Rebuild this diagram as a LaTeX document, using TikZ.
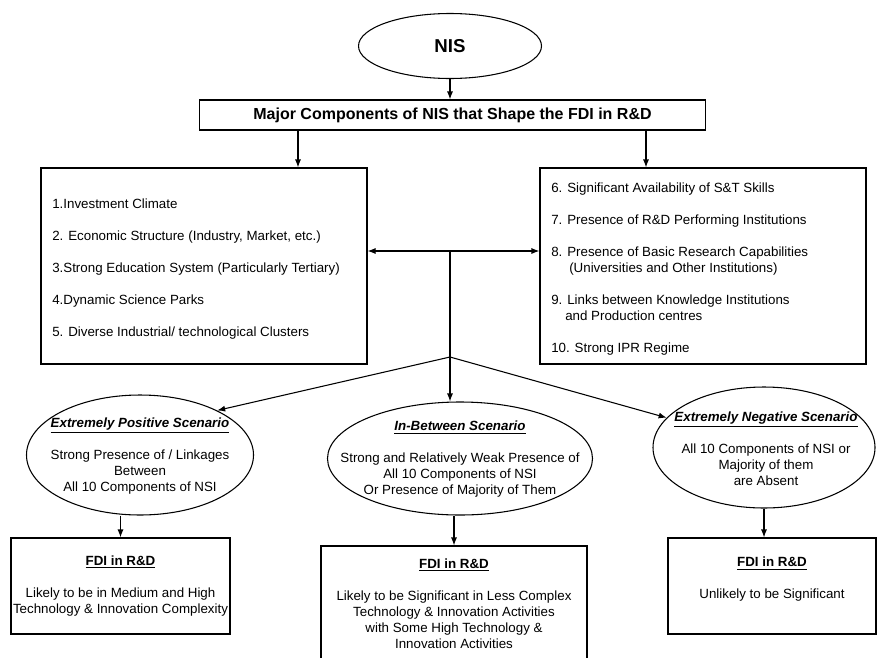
\documentclass[tikz,border=0pt]{standalone}
\usepackage{fontspec}
\setmainfont{Liberation Sans}
\usetikzlibrary{arrows.meta,shapes.geometric,positioning}

\begin{document}
\begin{tikzpicture}[x=0.75pt,y=0.75pt,yscale=-1,xscale=1,
  >={Latex[length=6pt,width=4.5pt]},
  box/.style={draw,line width=0.8pt,rectangle,inner sep=0pt,align=center,
    font=\fontsize{10}{12}\selectfont},
  oval/.style={draw,line width=0.8pt,ellipse,inner sep=0pt},
  txt/.style={align=center,inner sep=0pt,font=\fontsize{10}{12}\selectfont},
  arr/.style={->,line width=0.8pt}]
%set diagram to 877 x 657
\useasboundingbox (0,0) rectangle (877,657);
\clip (0,0) rectangle (877,657);

%Shape: Ellipse [NIS]
\node [oval,minimum width=137.25pt,minimum height=48.75pt,font=\fontsize{14}{16}\selectfont\bfseries] (nis) at (450,46) {NIS};
%Shape: Rectangle [major components]
\node [box,minimum width=379.5pt,minimum height=22.5pt,font=\fontsize{12}{14}\selectfont\bfseries] (major) at (452.5,115) {Major Components of NIS that Shape the FDI in R\&D};
%Shape: Rectangle [components 1-5]
\node [box,minimum width=244.5pt,minimum height=147pt] (compL) at (204,266) {};
%Shape: Rectangle [components 6-10]
\node [box,minimum width=244.5pt,minimum height=147pt] (compR) at (703,266) {};

% Text Node
\node [txt,align=left,anchor=west] (listL) at (52,269) {1.Investment Climate\\[12pt]
2. Economic Structure (Industry, Market, etc.)\\[12pt]
3.Strong Education System (Particularly Tertiary)\\[12pt]
4.Dynamic Science Parks\\[12pt]
5. Diverse Industrial/ technological Clusters};
% Text Node
\node [txt,align=left,anchor=west] (listR) at (551,269) {6. Significant Availability of S\&T Skills\\[12pt]
7. Presence of R\&D Performing Institutions\\[12pt]
8. Presence of Basic Research Capabilities\\
\hspace*{13.5pt}(Universities and Other Institutions)\\[12pt]
9. Links between Knowledge Institutions\\
\hspace*{10.5pt}and Production centres\\[12pt]
10. Strong IPR Regime};

%Shape: Ellipse [scenarios]
\node [oval,minimum width=170.25pt,minimum height=90pt] (posEll) at (140,455) {};
\node [oval,minimum width=198.75pt,minimum height=84.75pt] (midEll) at (460,458.5) {};
\node [oval,minimum width=166.5pt,minimum height=90.75pt] (negEll) at (764,447.5) {};

% Text Node
\node [txt] (posTxt) at (140,456) {\underline{\textbf{\textit{Extremely Positive Scenario}}}\\[12pt]
Strong Presence of / Linkages\\ Between\\ All 10 Components of NSI};
% Text Node
\node [txt] (midTxt) at (460,459.5) {\underline{\textbf{\textit{In-Between Scenario}}}\\[12pt]
Strong and Relatively Weak Presence of\\ All 10 Components of NSI\\ Or Presence of Majority of Them};
% Text Node
\node [txt] (negTxt) at (766,449) {\underline{\textbf{\textit{Extremely Negative Scenario}}}\\[12pt]
All 10 Components of NSI or\\ Majority of them\\ are Absent};

%Shape: Rectangle [outcomes]
\node [box,minimum width=164.25pt,minimum height=72pt] (posFdi) at (120.5,586) {\underline{\textbf{FDI in R\&D}}\\[12pt]
Likely to be in Medium and High\\ Technology \& Innovation Complexity};
\node [box,minimum width=199.5pt,minimum height=86.25pt] (midFdi) at (454,603.5) {\underline{\textbf{FDI in R\&D}}\\[12pt]
Likely to be Significant in Less Complex\\ Technology \& Innovation Activities\\ with Some High Technology \&\\ Innovation Activities};
\node [box,minimum width=156pt,minimum height=72pt] (negFdi) at (772,586) {\underline{\textbf{FDI in R\&D}}\\[12pt]
Unlikely to be Significant\\ \mbox{}};

%Coordinates of the branching lines
\coordinate (lcol) at (298,0);
\coordinate (rcol) at (646,0);
\coordinate (hub) at (450,251);
\coordinate (split) at (450,357);

%Straight Lines
\draw [arr] (nis.south) -- (nis.south |- major.north);
\draw [arr] (major.south -| lcol) -- (lcol |- compL.north);
\draw [arr] (major.south -| rcol) -- (rcol |- compR.north);
\draw [<->,line width=0.8pt] (compL.east |- hub) -- (compR.west |- hub);
\draw [line width=0.8pt] (hub) -- (split);
\draw [arr] (split) -- (posEll.30);
\draw [arr] (split) -- (split |- midEll.north);
\draw [arr] (split) -- (negEll.163);
\draw [arr] (posEll.south -| posFdi.north) -- (posFdi.north);
\draw [arr] (midEll.south -| midFdi.north) -- (midFdi.north);
\draw [arr] (negEll.south) -- (negEll.south |- negFdi.north);

\end{tikzpicture}
\end{document}
